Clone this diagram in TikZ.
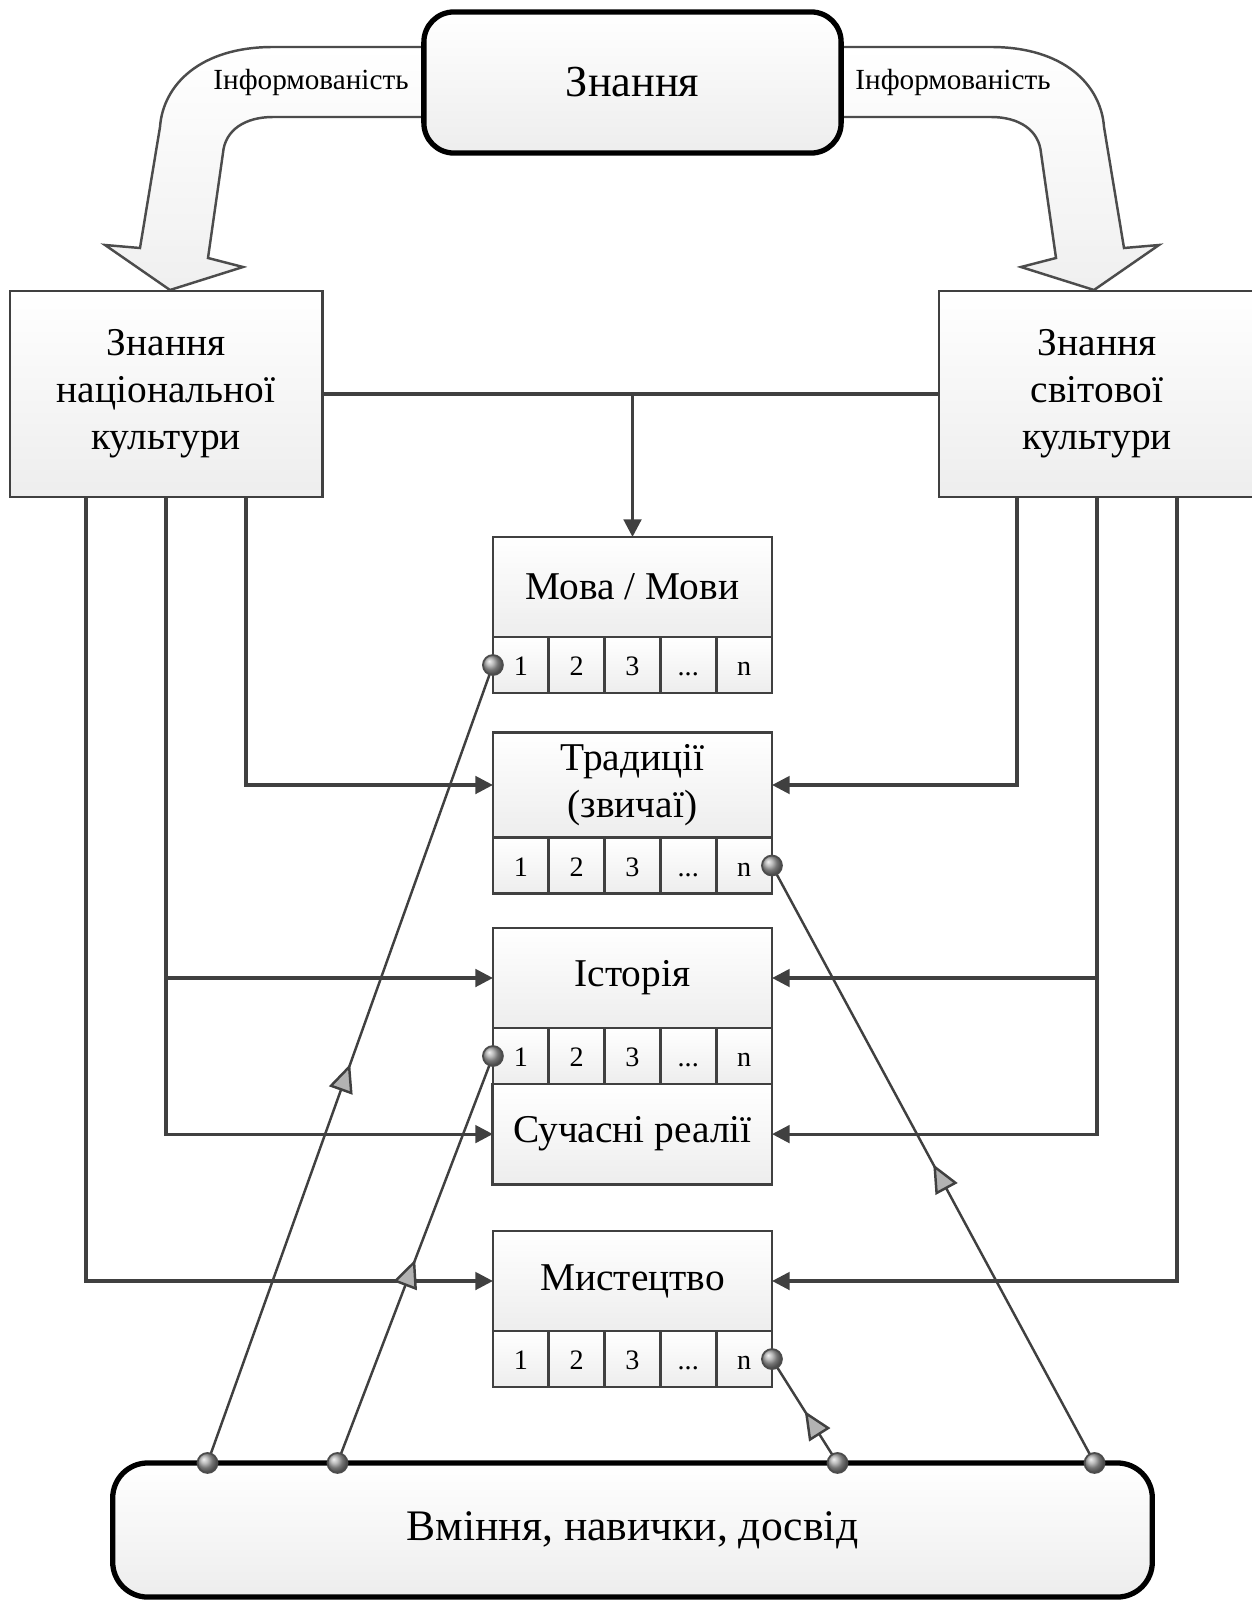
\documentclass[tikz,border=0pt]{standalone}
\usepackage{fontspec}
\setmainfont{Liberation Serif}
\usetikzlibrary{positioning, calc, arrows.meta, decorations.markings}

\begin{document}
\begin{tikzpicture}[x=0.01cm, y=-0.01cm,
    every node/.style={outer sep=0pt},
    box/.style={draw=black!75, line width=0.8pt, top color=white, bottom color=gray!14, align=center, font=\fontsize{11.2}{13.4}\selectfont},
    hdr/.style={box, minimum width=2.79cm, minimum height=1cm},
    cell/.style={box, minimum width=0.558cm, minimum height=0.56cm, inner sep=0pt, text height=1.45ex, text depth=0.1ex, font=\fontsize{8}{9}\selectfont},
    side/.style={box, minimum width=3.12cm, minimum height=2.06cm},
    bigbox/.style={box, draw=black, line width=1.5pt, rounded corners=0.3cm, font=\fontsize{12.6}{15}\selectfont},
    band/.style={draw=black!70, line width=0.7pt, top color=white, bottom color=gray!12},
    info/.style={font=\fontsize{8.3}{10}\selectfont},
    link/.style={draw=black!75, line width=0.9pt},
    arr/.style={link, -{Triangle[length=5pt, width=5pt]}},
    diag/.style={draw=black!75, line width=0.7pt, postaction={decorate},
      decoration={markings, mark=at position 0.5 with {\arrow{Triangle[length=8pt, width=7pt, fill=gray!60]}}}},
    dot/.style={draw=black!70, line width=0.5pt, ball color=gray!70}]
  \useasboundingbox (0,0) rectangle (1252,1600);

  % curved arrows from the top
  \foreach \s in {1,-1}{
    \begin{scope}[shift={(632,0)}, xscale=\s]
      \draw[band] (-190,47) -- (-359,47) .. controls (-432,47) and (-469,85) .. (-472,127)
        -- (-492,248) -- (-527,245) -- (-462,290) -- (-389,267) -- (-424,258) -- (-409,153)
        .. controls (-407,130) and (-387,117) .. (-359,117) -- (-190,117) -- cycle;
      \node[info] (inf\s) at (-321,82) {Інформованість};
    \end{scope}
  }

  \node[bigbox, minimum width=4.17cm, minimum height=1.41cm] (znan) at (632.5,82.5) {Знання};
  \node[side] (nat) at (166,394) {Знання\\національної\\культури};
  \node[side, minimum width=3.16cm] (svit) at (1097,394) {Знання\\світової\\культури};

  \node[hdr] (mova) at (632.5,587) {Мова / Мови};
  \node[hdr] (trad) at (632.5,785) {Традиції\\(звичаї)};
  \node[hdr] (ist) at (632.5,978) {Історія};
  \node[hdr] (myst) at (632.5,1281) {Мистецтво};
  \foreach \b in {mova, trad, ist, myst}
    \foreach \lab [count=\i] in {1, 2, 3, .{}.{}., n}
      \node[cell, anchor=north west] (\b\i) at ($(\b.south west)+({(\i-1)*55.8},0)$) {\lab};
  \node[hdr, below=0pt of ist3] (real) {Сучасні реалії};

  \node[bigbox, rounded corners=0.35cm, minimum width=10.39cm, minimum height=1.34cm,
    font=\fontsize{12.4}{15}\selectfont] (vmin) at (632.5,1530) {Вміння, навички, досвід};

  % connectors
  \draw[link] (nat) -- (svit);
  \draw[arr] (nat -| mova) -- (mova);
  \draw[arr] ($(nat.south)+(80,0)$) |- (trad);
  \draw[arr] (nat.south) |- (ist);
  \draw[arr] (nat.south) |- (real);
  \draw[arr] ($(nat.south)+(-80,0)$) |- (myst);
  \draw[arr] ($(svit.south)+(-80,0)$) |- (trad);
  \draw[arr] (svit.south) |- (ist);
  \draw[arr] (svit.south) |- (real);
  \draw[arr] ($(svit.south)+(80,0)$) |- (myst);

  \coordinate (p1) at ($(vmin.north)+(-425,0)$);
  \coordinate (p2) at ($(vmin.north)+(-295,0)$);
  \coordinate (p3) at ($(vmin.north)+(205,0)$);
  \coordinate (p4) at ($(vmin.north)+(462,0)$);
  \draw[diag] (p1) -- (mova1.west);
  \draw[diag] (p2) -- (ist1.west);
  \draw[diag] (p3) -- (myst5.east);
  \draw[diag] (p4) -- (trad5.east);
  \foreach \p in {p1, p2, p3, p4, mova1.west, ist1.west, myst5.east, trad5.east}
    \shadedraw[dot] (\p) circle[radius=0.1cm];
\end{tikzpicture}
\end{document}
